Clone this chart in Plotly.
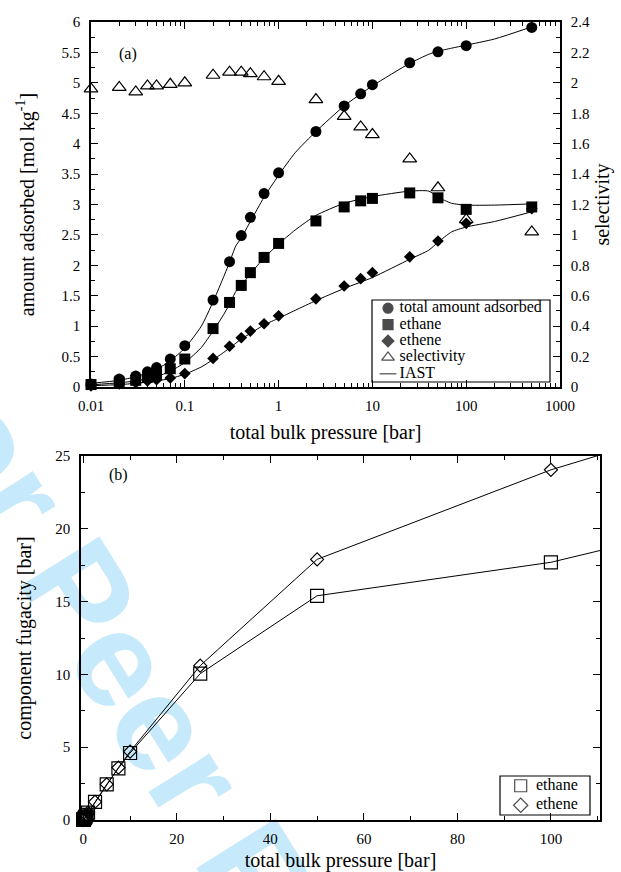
import plotly.graph_objects as go

# ---------------- data: panel (a) ----------------
pressure = [0.01, 0.02, 0.03, 0.04, 0.05, 0.07, 0.1, 0.2, 0.3, 0.4, 0.5, 0.7, 1,
            2.5, 5, 7.5, 10, 25, 50, 100, 500]
total_ads = [0.05, 0.13, 0.18, 0.25, 0.32, 0.46, 0.68, 1.43, 2.06, 2.49, 2.79, 3.18, 3.52,
             4.20, 4.62, 4.82, 4.97, 5.33, 5.51, 5.61, 5.91]
ethane_ads = [0.04, 0.08, 0.11, 0.16, 0.21, 0.30, 0.46, 0.96, 1.39, 1.67, 1.88, 2.13, 2.36,
              2.73, 2.96, 3.06, 3.10, 3.19, 3.11, 2.92, 2.96]
ethene_ads = [0.02, 0.05, 0.07, 0.10, 0.12, 0.15, 0.22, 0.47, 0.67, 0.81, 0.92, 1.04, 1.17,
              1.45, 1.66, 1.78, 1.88, 2.14, 2.40, 2.69, 2.93]
selectivity = [1.96, 1.97, 1.94, 1.98, 1.98, 1.99, 2.00, 2.05, 2.07, 2.07, 2.06, 2.04, 2.01,
               1.89, 1.78, 1.71, 1.66, 1.50, 1.31, 1.10, 1.02]

# IAST curves
iast_p = [0.01, 0.02, 0.03, 0.05, 0.07, 0.1, 0.15, 0.2, 0.25, 0.3, 0.35, 0.4, 0.5, 0.7, 1,
          1.5, 2.5, 5, 10, 25, 40, 50, 70, 100, 200, 500]
iast_total = [0.06, 0.11, 0.17, 0.29, 0.43, 0.64, 1.00, 1.40, 1.75, 2.05, 2.32, 2.45, 2.72,
              3.12, 3.48, 3.85, 4.20, 4.62, 4.95, 5.32, 5.47, 5.52, 5.57, 5.62, 5.72, 5.92]
iast_ethane = [0.035, 0.07, 0.10, 0.17, 0.26, 0.40, 0.65, 0.92, 1.15, 1.36, 1.57, 1.67, 1.86,
               2.12, 2.35, 2.58, 2.82, 3.02, 3.13, 3.22, 3.22, 3.12, 3.02, 2.99, 2.99, 3.01]
iast_ethene = [0.02, 0.04, 0.06, 0.10, 0.14, 0.21, 0.33, 0.45, 0.55, 0.64, 0.72, 0.79, 0.88,
               1.02, 1.13, 1.26, 1.42, 1.62, 1.80, 2.10, 2.25, 2.38, 2.55, 2.63, 2.72, 2.88]

# ---------------- data: panel (b) ----------------
fug_ethane = [0.005, 0.01, 0.015, 0.02, 0.025, 0.035, 0.05, 0.1, 0.15, 0.2, 0.25, 0.35, 0.5,
              1.25, 2.45, 3.55, 4.6, 10.05, 15.4, 17.7, 48.5]
fug_ethene = [0.005, 0.01, 0.015, 0.02, 0.025, 0.035, 0.05, 0.1, 0.15, 0.2, 0.25, 0.35, 0.5,
              1.25, 2.45, 3.6, 4.7, 10.6, 17.9, 24.05, 63.0]

log_tickvals = [0.01, 0.1, 1, 10, 100, 1000]
log_ticktext = ["0.01", "0.1", "1", "10", "100", "1000"]

legend_a_labels = ["total amount adsorbed", "ethane", "ethene", "selectivity", "IAST"]
legend_a_symbols = ["circle", "square", "diamond", "triangle-up-open", "line-ew"]
legend_b_labels = ["ethane", "ethene"]
legend_b_symbols = ["square-open", "diamond-open"]

W, H = 621, 872
SERIF = "Liberation Serif"
BLACK = "black"

fig = go.Figure()

# IAST lines (panel a)
for yv in [iast_total, iast_ethane, iast_ethene]:
    fig.add_trace(go.Scatter(
        x=iast_p, y=yv, mode="lines", line=dict(color=BLACK, width=1, shape="spline", smoothing=0.6),
        name="IAST", showlegend=False, xaxis="x", yaxis="y"))

fig.add_trace(go.Scatter(x=pressure, y=total_ads, mode="markers", name="total amount adsorbed",
                         marker=dict(symbol="circle", size=11, color=BLACK), showlegend=False,
                         xaxis="x", yaxis="y", cliponaxis=False))
fig.add_trace(go.Scatter(x=pressure, y=ethane_ads, mode="markers", name="ethane",
                         marker=dict(symbol="square", size=11, color=BLACK), showlegend=False,
                         xaxis="x", yaxis="y", cliponaxis=False))
fig.add_trace(go.Scatter(x=pressure, y=ethene_ads, mode="markers", name="ethene",
                         marker=dict(symbol="diamond", size=9, color=BLACK), showlegend=False,
                         xaxis="x", yaxis="y", cliponaxis=False))
fig.add_trace(go.Scatter(x=pressure, y=selectivity, mode="markers", name="selectivity",
                         marker=dict(symbol="triangle-up-open", size=12, color=BLACK,
                                     line=dict(width=1.2, color=BLACK)), showlegend=False,
                         xaxis="x", yaxis="y2", cliponaxis=False))

# panel (b)
fig.add_trace(go.Scatter(x=pressure, y=fug_ethane, mode="lines+markers", name="ethane",
                         marker=dict(symbol="square-open", size=13, color=BLACK,
                                     line=dict(width=1.2, color=BLACK)),
                         line=dict(color=BLACK, width=1), xaxis="x3", yaxis="y3",
                         cliponaxis=False, showlegend=False))
fig.add_trace(go.Scatter(x=pressure, y=fug_ethene, mode="lines+markers", name="ethene",
                         marker=dict(symbol="diamond-open", size=10, color=BLACK,
                                     line=dict(width=1.2, color=BLACK)),
                         line=dict(color=BLACK, width=1), xaxis="x3", yaxis="y3",
                         cliponaxis=False, showlegend=False))

# legend keys (drawn on helper axes spanning each legend box)
def legend_rows(n):
    return [(n - i - 0.5) / n for i in range(n)]

ya = legend_rows(len(legend_a_labels))
fig.add_trace(go.Scatter(x=[0.09] * len(ya), y=ya, mode="markers", xaxis="x4", yaxis="y4",
                         marker=dict(symbol=legend_a_symbols, size=[10, 10, 9, 11, 12], color=BLACK,
                                     line=dict(width=1.2, color=BLACK)),
                         showlegend=False, hoverinfo="skip", cliponaxis=False))
fig.add_trace(go.Scatter(x=[0.155] * len(ya), y=ya, mode="text", text=legend_a_labels,
                         textposition="middle right", xaxis="x4", yaxis="y4",
                         textfont=dict(family=SERIF, size=16, color=BLACK),
                         showlegend=False, hoverinfo="skip", cliponaxis=False))
yb = legend_rows(len(legend_b_labels))
fig.add_trace(go.Scatter(x=[0.23] * len(yb), y=yb, mode="markers", xaxis="x5", yaxis="y5",
                         marker=dict(symbol=legend_b_symbols, size=[12, 11], color=BLACK,
                                     line=dict(width=1.2, color=BLACK)),
                         showlegend=False, hoverinfo="skip", cliponaxis=False))
fig.add_trace(go.Scatter(x=[0.40] * len(yb), y=yb, mode="text", text=legend_b_labels,
                         textposition="middle right", xaxis="x5", yaxis="y5",
                         textfont=dict(family=SERIF, size=16, color=BLACK),
                         showlegend=False, hoverinfo="skip", cliponaxis=False))

# domains in pixel terms
def px_x(a, b):
    return [a / W, b / W]

def px_y(top, bottom):
    return [(H - bottom) / H, (H - top) / H]

tickfont = dict(family=SERIF, size=15, color=BLACK)
titlefont = dict(family=SERIF, size=20, color=BLACK)
common = dict(showline=True, linecolor=BLACK, linewidth=1.5, ticks="inside", ticklen=7,
              tickwidth=1, tickcolor=BLACK, showgrid=False, zeroline=False, tickfont=tickfont,
              automargin=False)
hidden = dict(visible=False, range=[0, 1], fixedrange=True, automargin=False)

fig.update_layout(
    width=W, height=H, margin=dict(l=0, r=0, t=0, b=0),
    paper_bgcolor="white", plot_bgcolor="rgba(0,0,0,0)", showlegend=False,
    font=dict(family=SERIF, color=BLACK),
    xaxis=dict(type="log", range=[-2, 3], domain=px_x(91, 560), anchor="y", mirror="ticks",
               tickvals=log_tickvals, ticktext=log_ticktext,
               minor=dict(ticks="inside", ticklen=4, tickcolor=BLACK, dtick="D1", showgrid=False),
               title=dict(text="total bulk pressure [bar]", font=titlefont, standoff=12),
               ticklabelstandoff=4, **common),
    yaxis=dict(range=[0, 6], dtick=0.5, domain=px_y(22, 387), anchor="x",
               minor=dict(ticks="inside", ticklen=4, tickcolor=BLACK, dtick=0.25),
               title=dict(text="amount adsorbed [mol kg<sup>-1</sup>]", font=titlefont, standoff=22),
               ticklabelstandoff=6, **common),
    yaxis2=dict(range=[0, 2.4], dtick=0.2, overlaying="y", side="right", anchor="x",
                minor=dict(ticks="inside", ticklen=4, tickcolor=BLACK, dtick=0.1),
                title=dict(text="selectivity", font=titlefont, standoff=6),
                ticklabelstandoff=6, **common),
    xaxis3=dict(range=[-0.5, 110.5], dtick=20, domain=px_x(81, 600), anchor="y3", mirror="ticks",
                minor=dict(ticks="inside", ticklen=4, tickcolor=BLACK, dtick=10),
                title=dict(text="total bulk pressure [bar]", font=titlefont, standoff=13),
                ticklabelstandoff=4, **common),
    yaxis3=dict(range=[0, 25], dtick=5, domain=px_y(456, 820), anchor="x3", mirror="ticks",
                minor=dict(ticks="inside", ticklen=4, tickcolor=BLACK, dtick=2.5),
                title=dict(text="component fugacity [bar]", font=titlefont, standoff=18),
                ticklabelstandoff=6, **common),
    xaxis4=dict(domain=px_x(372, 550), anchor="y4", **hidden),
    yaxis4=dict(domain=px_y(300, 382), anchor="x4", **hidden),
    xaxis5=dict(domain=px_x(500, 590), anchor="y5", **hidden),
    yaxis5=dict(domain=px_y(776, 815), anchor="x5", **hidden),
    annotations=[
        dict(text="(a)", x=117 / W, y=(H - 43) / H, xref="paper", yref="paper",
             showarrow=False, font=dict(family=SERIF, size=16, color=BLACK)),
        dict(text="(b)", x=107 / W, y=(H - 475) / H, xref="paper", yref="paper",
             showarrow=False, font=dict(family=SERIF, size=16, color=BLACK)),
    ],
    shapes=[
        dict(type="rect", xref="paper", yref="paper",
             x0=210 / W, x1=210 / W + 0.001, y0=(H - 778) / H, y1=(H - 778) / H + 0.001,
             line=dict(width=0), fillcolor="rgba(0,0,0,0)", layer="below",
             label=dict(text="For Peer Review", textangle=58, textposition="middle center",
                        font=dict(family="Liberation Sans", size=136, color="#c6eafb",
                                  weight="bold"))),
        dict(type="rect", xref="x4 domain", yref="y4 domain", x0=0, x1=1, y0=0, y1=1,
             line=dict(color=BLACK, width=1.2), fillcolor="white", layer="below"),
        dict(type="rect", xref="x5 domain", yref="y5 domain", x0=0, x1=1, y0=0, y1=1,
             line=dict(color=BLACK, width=1.2), fillcolor="white", layer="below"),
    ],
)

fig.write_html("out.html")
